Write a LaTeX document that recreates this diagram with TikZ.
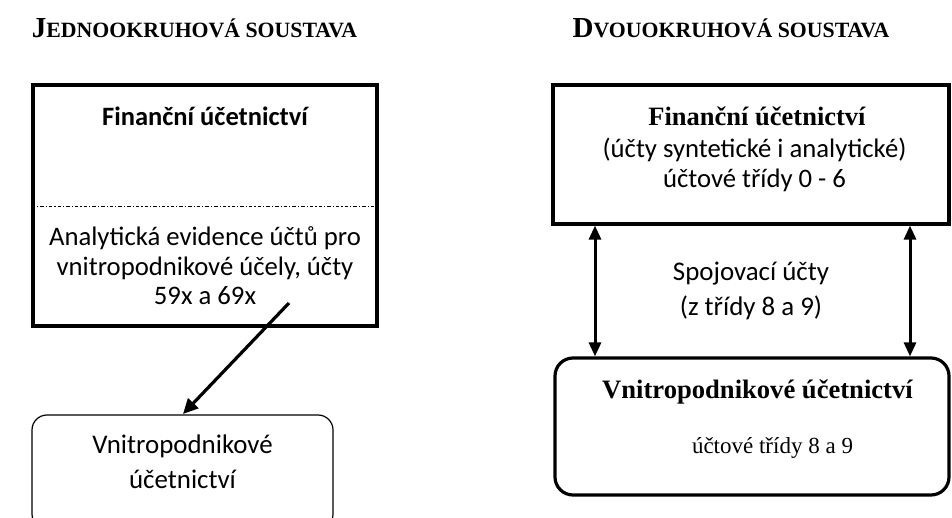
\documentclass[tikz,border=0pt]{standalone}
\usepackage{fontspec}
\setmainfont{Carlito}
\newfontfamily\timesfont{Liberation Serif}
\usetikzlibrary{arrows.meta}

\tikzset{
  frame/.style={draw, line width=3.2pt, inner sep=0pt},
  softframe/.style={draw, line width=1.2pt, rounded corners=15pt, inner sep=0pt},
  heavyround/.style={draw, line width=3.2pt, rounded corners=18pt, inner sep=0pt},
  lbl/.style={inner sep=0pt, align=center, font=\fontsize{26.7}{29.5}\selectfont},
  lblwide/.style={inner sep=0pt, align=center, font=\fontsize{26.9}{35}\selectfont},
  title/.style={inner sep=0pt, font=\timesfont\bfseries},
  link/.style={line width=3.2pt, -{Triangle[length=15pt,width=14pt]}},
  duplex/.style={line width=3pt, {Triangle[length=14pt,width=12pt]}-{Triangle[length=14pt,width=12pt]}}
}
\newcommand{\capsA}{\fontsize{29}{30}\selectfont}
\newcommand{\capsB}{\fontsize{21.8}{30}\selectfont}

\begin{document}
\begin{tikzpicture}[x=1pt,y=-1pt]
\useasboundingbox (0,0) rectangle (952,518);

% headings
\node[title] (h1) at (194.5,28) {\capsA J\capsB EDNOOKRUHOVÁ SOUSTAVA};
\node[title] (h2) at (731,28) {\capsA D\capsB VOUOKRUHOVÁ SOUSTAVA};

% single-circuit system
\node[frame, minimum width=344pt, minimum height=241pt] (fa) at (205,205.5) {};
\draw[line width=1pt, dash pattern=on 3.5pt off 2pt on 1.2pt off 2pt]
  (fa.west |- 0,207) coordinate (dl) -- (fa.east |- 0,207) coordinate (dr);
\node[lbl, font=\fontsize{26.5}{29.5}\selectfont\bfseries] (fat) at (205,116) {Finanční účetnictví};
\node[lbl] (fab) at (205,266) {Analytická evidence účtů pro\\vnitropodnikové účely, účty\\59x a 69x};

\node[softframe, minimum width=301pt, minimum height=114pt] (va) at (182.5,472) {};
\node[lblwide] (vat) at (182.5,462) {Vnitropodnikové\\účetnictví};

\coordinate (src) at (289,303);
\draw[link] (src) -- (183,414);

% two-circuit system
\node[frame, minimum width=396pt, minimum height=139pt] (fb) at (751,154.5) {};
\node[inner sep=0pt, font=\timesfont\bfseries\fontsize{26.5}{30}\selectfont] (fbt) at (757,116) {Finanční účetnictví};
\node[lbl] (fbs) at (754.5,165) {(účty syntetické i analytické)\\účtové třídy 0 - 6};

\node[heavyround, minimum width=394pt, minimum height=137pt] (vb) at (752,426.5) {};
\node[inner sep=0pt, font=\timesfont\bfseries\fontsize{26.6}{30}\selectfont] (vbt) at (757.5,392) {Vnitropodnikové účetnictví};
\node[inner sep=0pt, font=\timesfont\fontsize{23}{28}\selectfont] (vbs) at (772.5,448) {účtové třídy 8 a 9};

\node[lblwide] (sp) at (751,290.5) {Spojovací účty\\(z třídy 8 a 9)};

\draw[duplex] (fb.south -| 595,0) -- (vb.north -| 595,0);
\draw[duplex] (fb.south -| 910,0) -- (vb.north -| 910,0);
\end{tikzpicture}
\end{document}
